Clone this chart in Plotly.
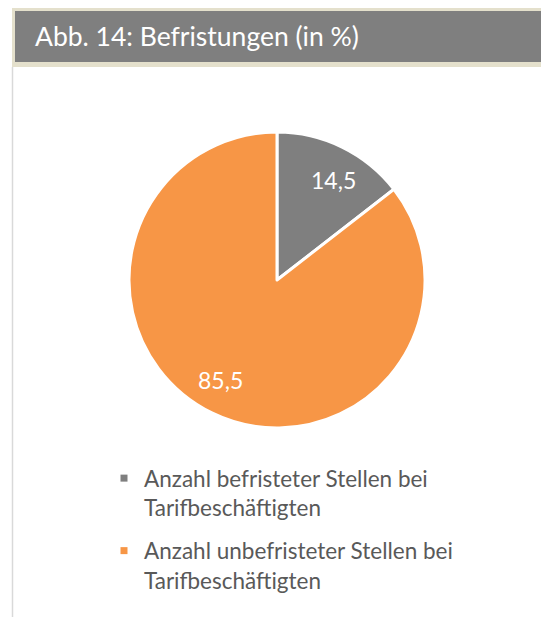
import math
import plotly.graph_objects as go

categories = ["Anzahl befristeter Stellen bei<br>Tarifbeschäftigten",
              "Anzahl unbefristeter Stellen bei<br>Tarifbeschäftigten"]
values = [14.5, 85.5]
colors = ["#7f7f7f", "#f79646"]
title_text = "Abb. 14: Befristungen (in %)"

# page has an 8px body margin; work in reference pixel coords and shift
OFF = 8
W, H = 549 - OFF, 617 - OFF


def px(x):
    return (x - OFF) / W


def py(y):
    return 1 - (y - OFF) / H


cx, cy, r = 277, 280, 148

fig = go.Figure()
fig.add_trace(go.Pie(
    labels=categories,
    values=values,
    sort=False,
    direction="clockwise",
    rotation=0,
    marker=dict(colors=colors, line=dict(color="white", width=3)),
    textinfo="none",
    hoverinfo="label+value",
    showlegend=False,
    domain=dict(x=[px(cx - r), px(cx + r)], y=[py(cy + r), py(cy - r)]),
))

# legend entries (small square markers like the original)
for i, (name, col) in enumerate(zip(categories, colors)):
    fig.add_trace(go.Scatter(x=[None], y=[None], mode="markers", name=name,
                             legendgroup=f"g{i}",
                             marker=dict(symbol="square", size=7, color=col),
                             hoverinfo="skip"))

# data labels placed at ~0.77 of radius along each slice's mid angle
annotations = []
total = sum(values)
cum = 0.0
for v in values:
    mid = (cum + v / 2) / total * 2 * math.pi
    cum += v
    lx = cx + 0.775 * r * math.sin(mid + 0.06)
    ly = cy - 0.775 * r * math.cos(mid + 0.06)
    annotations.append(dict(text=f"{v:.1f}".replace(".", ","), xref="paper", yref="paper",
                            x=px(lx), y=py(ly), xanchor="center", yanchor="middle",
                            showarrow=False, font=dict(color="white", size=23, family="Lato")))

annotations.append(dict(text=title_text, xref="paper", yref="paper", x=px(33), y=py(36),
                        xanchor="left", yanchor="middle", showarrow=False,
                        font=dict(color="white", size=26.5, family="Lato")))

shapes = [
    dict(type="rect", xref="paper", yref="paper", x0=px(12), x1=px(549), y0=py(67), y1=py(7),
         fillcolor="#e4e0cc", line=dict(width=0), layer="below"),
    dict(type="rect", xref="paper", yref="paper", x0=px(15), x1=px(546), y0=py(62), y1=py(11),
         fillcolor="#7f7f7f", line=dict(width=0), layer="below"),
    dict(type="line", xref="paper", yref="paper", x0=px(12.5), x1=px(12.5), y0=0, y1=py(67),
         line=dict(color="#d9d9d9", width=1.5)),
    dict(type="line", xref="paper", yref="paper", x0=px(548), x1=px(548), y0=0, y1=py(67),
         line=dict(color="#e6e6e6", width=1)),
]

fig.update_layout(
    width=W, height=H,
    margin=dict(l=0, r=0, t=0, b=0),
    paper_bgcolor="white",
    plot_bgcolor="white",
    xaxis=dict(visible=False),
    yaxis=dict(visible=False),
    separators=",.",
    shapes=shapes,
    annotations=annotations,
    showlegend=True,
    legend=dict(x=px(104), y=py(457), xanchor="left", yanchor="top",
                font=dict(color="#595959", size=22.5, family="Lato"),
                valign="top", bgcolor="rgba(0,0,0,0)", tracegroupgap=11),
)

fig.write_html("out.html")
